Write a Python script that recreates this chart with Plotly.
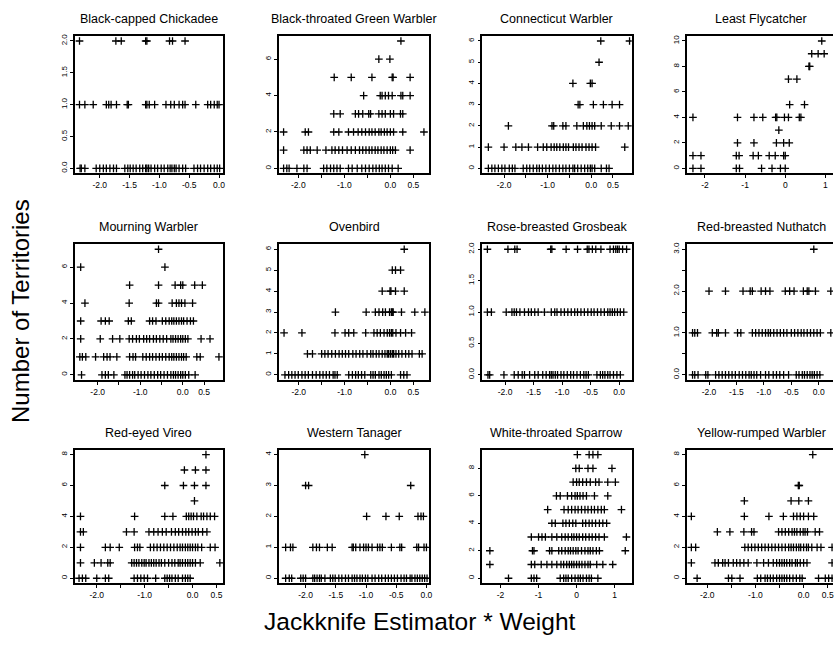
import plotly.graph_objects as go

W, H = 836, 648

species = [
    "Black-capped Chickadee", "Black-throated Green Warbler", "Connecticut Warbler", "Least Flycatcher",
    "Mourning Warbler", "Ovenbird", "Rose-breasted Grosbeak", "Red-breasted Nuthatch",
    "Red-eyed Vireo", "Western Tanager", "White-throated Sparrow", "Yellow-rumped Warbler",
]

# territories (y level) -> jackknife estimator * weight values (x)
black_capped_chickadee = {
    0: [-2.33, -2.31, -2.25, -2.06, -2.0, -1.94, -1.89, -1.83, -1.77, -1.72, -1.58, -1.53, -1.49, -1.44,
        -1.39, -1.33, -1.28, -1.23, -1.21, -1.18, -1.14, -1.08, -1.03, -0.97, -0.92, -0.86, -0.82, -0.79,
        -0.75, -0.72, -0.67, -0.61, -0.56, -0.42, -0.36, -0.31, -0.25, -0.19, -0.14, -0.08, -0.03, 0.01],
    1: [-2.34, -2.25, -2.11, -1.89, -1.85, -1.81, -1.72, -1.54, -1.52, -1.23, -1.21, -1.17, -1.08, -0.89,
        -0.81, -0.75, -0.67, -0.61, -0.57, -0.39, -0.19, -0.14, -0.08, -0.03, 0.0],
    2: [-2.34, -1.73, -1.64, -1.23, -1.21, -0.83, -0.78, -0.57],
}
black_throated_green_warbler = {
    0: [-2.32, -2.25, -2.20, -2.03, -1.88, -1.81, -1.45, -1.38, -1.30, -1.23, -1.16, -1.09, -0.91, -0.83,
        -0.72, -0.62, -0.54, -0.46, -0.38, -0.31, -0.24, -0.18, -0.11, -0.04, 0.04, 0.17],
    1: [-2.32, -1.88, -1.81, -1.74, -1.59, -1.40, -1.27, -1.20, -1.12, -1.04, -0.94, -0.85, -0.76, -0.67,
        -0.60, -0.53, -0.46, -0.40, -0.33, -0.27, -0.20, -0.14, -0.07, 0.0, 0.05, 0.11, 0.43],
    2: [-2.32, -1.85, -1.78, -1.23, -1.12, -0.91, -0.80, -0.70, -0.62, -0.54, -0.46, -0.40, -0.33, -0.25,
        -0.20, -0.13, -0.07, 0.0, 0.07, 0.27, 0.73],
    3: [-1.23, -1.09, -0.76, -0.69, -0.60, -0.47, -0.43, -0.25, -0.18, -0.11, 0.0, 0.07, 0.22, 0.27],
    4: [-0.58, -0.22, -0.18, -0.11, -0.04, 0.04, 0.23, 0.27, 0.43],
    5: [-1.22, -0.85, -0.40, 0.04, 0.06, 0.43],
    6: [-0.25, -0.01],
    7: [0.23],
}
connecticut_warbler = {
    0: [-2.36, -2.28, -2.21, -2.13, -2.05, -1.98, -1.88, -1.81, -1.75, -1.56, -1.48, -1.41, -1.33, -1.25,
        -1.19, -1.12, -1.04, -0.96, -0.88, -0.81, -0.73, -0.65, -0.58, -0.50, -0.42, -0.38, -0.31, -0.23,
        -0.15, -0.08, -0.02, 0.02, 0.08, 0.23, 0.35, 0.41],
    1: [-2.36, -2.0, -1.73, -1.59, -1.44, -1.23, -1.10, -1.02, -0.92, -0.85, -0.79, -0.72, -0.64, -0.58,
        -0.52, -0.41, -0.35, -0.28, -0.21, -0.12, -0.05, 0.02, 0.10, 0.77],
    2: [-1.90, -0.90, -0.86, -0.65, -0.58, -0.33, -0.18, -0.10, -0.04, 0.02, 0.08, 0.23, 0.46, 0.65, 0.85],
    3: [-0.30, -0.26, 0.05, 0.28, 0.48, 0.65],
    4: [-0.42, -0.02, 0.02],
    5: [0.18],
    6: [0.22, 0.88],
}
least_flycatcher = {
    0: [-2.30, -2.10, -1.22, -1.14, -0.59, -0.33, -0.12, 0.0],
    1: [-2.30, -2.10, -1.22, -1.15, -0.80, -0.67, -0.40, -0.25, -0.04, 0.0],
    2: [-1.19, -0.78, -0.22, -0.04, 0.10],
    3: [-0.16],
    4: [-2.30, -1.19, -0.78, -0.56, -0.24, -0.21, -0.02, 0.08, 0.35, 0.39],
    5: [0.11, 0.48],
    7: [0.08, 0.29],
    8: [0.59, 0.61],
    9: [0.66, 0.82, 0.97],
    10: [0.91],
}
mourning_warbler = {
    0: [-2.38, -1.90, -1.82, -1.75, -1.62, -1.36, -1.31, -1.25, -1.18, -1.13, -1.05, -0.98, -0.90, -0.82,
        -0.75, -0.67, -0.59, -0.52, -0.44, -0.36, -0.28, -0.22, -0.17, -0.11, -0.05, 0.0, 0.06, 0.14, 0.29],
    1: [-2.42, -2.36, -2.28, -2.05, -1.86, -1.78, -1.71, -1.55, -1.25, -1.17, -1.11, -0.94, -0.86, -0.78,
        -0.71, -0.63, -0.55, -0.48, -0.40, -0.32, -0.26, -0.21, -0.15, -0.09, -0.03, 0.02, 0.08, 0.33,
        0.41, 0.85],
    2: [-2.40, -1.94, -1.65, -1.48, -1.26, -1.18, -1.09, -1.02, -0.92, -0.85, -0.78, -0.69, -0.62, -0.54,
        -0.46, -0.38, -0.28, -0.23, -0.17, -0.11, -0.05, 0.0, 0.06, 0.12, 0.43, 0.64],
    3: [-2.40, -1.92, -1.82, -1.73, -1.28, -1.21, -0.78, -0.71, -0.63, -0.48, -0.40, -0.32, -0.26, -0.21,
        -0.15, -0.09, -0.03, 0.02, 0.10, 0.18, 0.25],
    4: [-2.30, -1.26, -0.62, -0.57, -0.25, -0.15, -0.09, -0.03, 0.05, 0.23],
    5: [-1.25, -0.57, -0.18, -0.05, 0.0, 0.28, 0.46],
    6: [-2.40, -0.42],
    7: [-0.57],
}
ovenbird = {
    0: [-2.30, -2.22, -2.15, -2.08, -2.01, -1.93, -1.86, -1.79, -1.70, -1.62, -1.54, -1.47, -1.40, -1.33,
        -1.25, -1.21, -1.16, -0.91, -0.83, -0.76, -0.70, -0.63, -0.56, -0.43, -0.38, -0.33, -0.25, -0.20,
        -0.14, -0.09, -0.04, 0.02, 0.22, 0.29, 0.36],
    1: [-1.81, -1.70, -1.50, -1.43, -1.36, -1.28, -1.20, -1.12, -1.05, -0.98, -0.91, -0.82, -0.75, -0.67,
        -0.60, -0.51, -0.43, -0.38, -0.31, -0.25, -0.18, -0.12, -0.07, -0.04, 0.0, 0.04, 0.07, 0.12, 0.18,
        0.25, 0.33, 0.40, 0.47, 0.63, 0.69],
    2: [-2.32, -1.93, -1.21, -0.99, -0.91, -0.80, -0.54, -0.36, -0.29, -0.22, -0.14, -0.07, -0.02, 0.02,
        0.05, 0.12, 0.22, 0.33, 0.46],
    3: [-1.20, -0.53, -0.33, -0.25, -0.17, -0.11, -0.02, 0.02, 0.04, 0.06, 0.24, 0.53, 0.75],
    4: [-0.18, -0.01, 0.01, 0.11, 0.30],
    5: [0.04, 0.11, 0.22],
    6: [0.30],
}
rose_breasted_grosbeak = {
    0: [-2.30, -2.27, -2.02, -1.84, -1.77, -1.70, -1.66, -1.57, -1.48, -1.42, -1.34, -1.28, -1.22, -1.19,
        -1.16, -1.12, -1.08, -1.02, -0.97, -0.91, -0.85, -0.80, -0.74, -0.68, -0.62, -0.58, -0.54, -0.39,
        -0.33, -0.29, -0.25, -0.20, -0.16, -0.10, -0.04, 0.02],
    1: [-2.31, -2.24, -1.98, -1.88, -1.84, -1.80, -1.74, -1.66, -1.59, -1.54, -1.48, -1.42, -1.31, -1.19,
        -1.13, -1.09, -1.02, -0.96, -0.90, -0.84, -0.78, -0.73, -0.67, -0.61, -0.55, -0.49, -0.44, -0.38,
        -0.32, -0.26, -0.20, -0.16, -0.12, -0.08, -0.03, 0.02, 0.08],
    2: [-2.31, -1.95, -1.83, -1.79, -1.20, -1.18, -0.93, -0.73, -0.56, -0.53, -0.47, -0.41, -0.32, -0.16,
        -0.10, -0.06, -0.03, 0.0, 0.06, 0.13],
}
red_breasted_nuthatch = {
    0: [-2.30, -2.26, -2.20, -2.06, -2.02, -1.88, -1.82, -1.76, -1.70, -1.64, -1.58, -1.52, -1.45, -1.39,
        -1.33, -1.27, -1.23, -1.18, -1.13, -1.06, -0.97, -0.91, -0.83, -0.77, -0.71, -0.64, -0.55, -0.41,
        -0.36, -0.30, -0.26, -0.21, -0.16, -0.12, -0.08, -0.03, 0.02],
    1: [-2.30, -2.26, -2.21, -1.94, -1.86, -1.83, -1.70, -1.48, -1.42, -1.21, -1.15, -1.09, -1.03, -0.97,
        -0.92, -0.88, -0.82, -0.76, -0.70, -0.64, -0.58, -0.50, -0.44, -0.38, -0.32, -0.27, -0.21, -0.15,
        -0.09, -0.03, 0.03, 0.22],
    2: [-2.0, -1.70, -1.38, -1.25, -1.21, -1.05, -0.97, -0.89, -0.61, -0.53, -0.45, -0.28, -0.21, -0.18,
        -0.06, 0.22],
    3: [-0.09],
}
red_eyed_vireo = {
    0: [-2.37, -2.30, -2.23, -2.0, -1.82, -1.75, -1.22, -1.15, -1.08, -1.01, -0.94, -0.77, -0.58, -0.53,
        -0.48, -0.43, -0.36, -0.30, -0.21, -0.15, -0.10, -0.05],
    1: [-2.34, -2.05, -1.91, -1.77, -1.72, -1.27, -1.22, -1.17, -1.12, -1.06, -1.01, -0.97, -0.91, -0.86,
        -0.81, -0.76, -0.70, -0.65, -0.58, -0.50, -0.43, -0.37, -0.30, -0.26, -0.21, -0.15, -0.10, -0.05,
        0.0, 0.06, 0.16, 0.57],
    2: [-2.34, -1.82, -1.72, -1.53, -1.21, -1.15, -1.10, -0.88, -0.81, -0.74, -0.67, -0.60, -0.53, -0.46,
        -0.39, -0.32, -0.26, -0.21, -0.15, -0.10, -0.05, 0.0, 0.06, 0.11, 0.19, 0.37, 0.47],
    3: [-2.34, -2.28, -1.38, -1.22, -0.91, -0.81, -0.72, -0.63, -0.55, -0.44, -0.36, -0.29, -0.21, -0.14,
        -0.08, -0.01, 0.06, 0.12, 0.21, 0.30],
    4: [-2.34, -1.21, -0.58, -0.41, -0.13, -0.08, -0.03, 0.02, 0.09, 0.18, 0.23, 0.30, 0.37, 0.46],
    5: [0.04],
    6: [-0.58, -0.19, 0.04, 0.28],
    7: [-0.17, 0.06, 0.28],
    8: [0.28],
}
western_tanager = {
    0: [-2.33, -2.27, -2.23, -2.08, -2.04, -2.0, -1.88, -1.85, -1.81, -1.77, -1.74, -1.68, -1.59, -1.55,
        -1.51, -1.45, -1.40, -1.34, -1.29, -1.23, -1.19, -1.15, -1.10, -1.06, -1.01, -0.97, -0.90, -0.85,
        -0.79, -0.74, -0.68, -0.63, -0.58, -0.53, -0.48, -0.42, -0.37, -0.33, -0.27, -0.24, -0.19, -0.15,
        -0.11, -0.07, -0.03, 0.01],
    1: [-2.33, -2.25, -2.21, -1.88, -1.82, -1.77, -1.64, -1.56, -1.23, -1.21, -1.17, -1.10, -1.04, -1.0,
        -0.96, -0.90, -0.81, -0.77, -0.73, -0.58, -0.44, -0.41, -0.16, -0.13, -0.04, 0.0],
    2: [-0.99, -0.67, -0.45, -0.14, -0.09, -0.05],
    3: [-2.0, -1.95, -0.26],
    4: [-1.02],
}
white_throated_sparrow = {
    0: [-1.79, -1.19, -1.12, -1.05, -0.43, -0.34, -0.28, -0.22, -0.13, -0.04, 0.04, 0.10, 0.17, 0.26, 0.33,
        0.39, 0.56],
    1: [-2.28, -1.19, -1.10, -0.93, -0.78, -0.65, -0.52, -0.41, -0.34, -0.26, -0.19, -0.13, -0.07, 0.0,
        0.07, 0.14, 0.22, 0.30, 0.36, 0.53, 0.69, 0.95],
    2: [-2.28, -1.16, -1.12, -0.71, -0.65, -0.47, -0.39, -0.30, -0.22, -0.16, -0.09, -0.02, 0.04, 0.13,
        0.22, 0.30, 0.36, 0.43, 0.52, 0.60, 1.28],
    3: [-1.19, -1.0, -0.91, -0.82, -0.65, -0.52, -0.39, -0.30, -0.22, -0.13, -0.07, 0.0, 0.07, 0.16, 0.24,
        0.33, 0.41, 0.50, 0.59, 0.73, 1.31],
    4: [-0.65, -0.56, -0.36, -0.28, -0.19, -0.10, -0.02, 0.16, 0.24, 0.33, 0.41, 0.50, 0.60, 0.69, 0.79],
    5: [-0.76, -0.33, -0.22, -0.13, -0.04, 0.04, 0.13, 0.22, 0.30, 0.39, 0.47, 0.56, 0.65, 0.73, 1.18],
    6: [-0.53, -0.43, -0.24, -0.13, -0.04, 0.02, 0.09, 0.17, 0.26, 0.47, 0.82],
    7: [-0.09, 0.0, 0.07, 0.16, 0.26, 0.36, 0.50, 0.59, 0.82, 1.02],
    8: [-0.02, 0.07, 0.30, 0.43, 0.93],
    9: [0.02, 0.33, 0.43, 0.56],
}
yellow_rumped_warbler = {
    0: [-2.21, -1.56, -1.49, -1.32, -0.96, -0.89, -0.80, -0.75, -0.69, -0.63, -0.56, -0.50, -0.45, -0.40,
        -0.35, -0.29, -0.22, -0.15, -0.08, -0.03, 0.31, 0.45, 0.52, 0.59],
    1: [-2.33, -1.84, -1.77, -1.68, -1.63, -1.56, -1.46, -1.39, -1.32, -1.24, -1.15, -0.97, -0.83, -0.73,
        -0.63, -0.56, -0.50, -0.45, -0.40, -0.35, -0.29, -0.24, -0.17, -0.13, -0.07, 0.0, 0.07, 0.59],
    2: [-2.33, -2.24, -1.22, -1.15, -1.08, -1.01, -0.94, -0.87, -0.80, -0.73, -0.66, -0.59, -0.52, -0.45,
        -0.38, -0.31, -0.26, -0.21, -0.15, -0.10, -0.06, 0.0, 0.06, 0.10, 0.17, 0.28, 0.36, 0.59],
    3: [-1.79, -1.53, -1.24, -1.08, -1.03, -0.52, -0.45, -0.38, -0.31, -0.24, -0.19, -0.14, -0.07, -0.01,
        0.03, 0.08, 0.24, 0.33],
    4: [-2.33, -1.23, -0.72, -0.42, -0.21, -0.14, -0.07, 0.0, 0.10, 0.21],
    5: [-1.23, -0.26, -0.10, 0.10],
    6: [-0.11, -0.09],
    8: [0.19],
}

panel_data = [
    black_capped_chickadee, black_throated_green_warbler, connecticut_warbler, least_flycatcher,
    mourning_warbler, ovenbird, rose_breasted_grosbeak, red_breasted_nuthatch,
    red_eyed_vireo, western_tanager, white_throated_sparrow, yellow_rumped_warbler,
]

x_ranges = [
    [-2.42, 0.07], [-2.42, 0.85], [-2.50, 0.93], [-2.46, 1.19],
    [-2.54, 0.95], [-2.43, 0.85], [-2.40, 0.22], [-2.41, 0.26],
    [-2.46, 0.64], [-2.44, 0.05], [-2.48, 1.45], [-2.43, 0.61],
]
y_max = [2, 7, 6, 10, 7, 6, 2, 3, 8, 4, 9, 8]

half_ticks = ([-2.0, -1.5, -1.0, -0.5, 0.0, 0.5], ["-2.0", "", "-1.0", "", "0.0", "0.5"])
quarter_ticks = ([-2.0, -1.5, -1.0, -0.5, 0.0], ["-2.0", "-1.5", "-1.0", "-0.5", "0.0"])
unit_ticks = ([-2, -1, 0, 1], ["-2", "-1", "0", "1"])
x_tick_sets = [quarter_ticks, half_ticks, half_ticks, unit_ticks,
               half_ticks, half_ticks, quarter_ticks, quarter_ticks,
               half_ticks, quarter_ticks, unit_ticks, half_ticks]

y_tick_sets = [
    ([0, 0.5, 1, 1.5, 2], ["0.0", "0.5", "1.0", "1.5", "2.0"]),
    ([0, 2, 4, 6], ["0", "2", "4", "6"]),
    ([0, 1, 2, 3, 4, 5, 6], ["0", "1", "2", "3", "4", "5", "6"]),
    ([0, 2, 4, 6, 8, 10], ["0", "2", "4", "6", "8", "10"]),
    ([0, 2, 4, 6], ["0", "2", "4", "6"]),
    ([0, 1, 2, 3, 4, 5, 6], ["0", "1", "2", "3", "4", "5", "6"]),
    ([0, 0.5, 1, 1.5, 2], ["0.0", "0.5", "1.0", "1.5", "2.0"]),
    ([0, 0.5, 1, 1.5, 2, 2.5, 3], ["0.0", "", "1.0", "", "2.0", "", "3.0"]),
    ([0, 2, 4, 6, 8], ["0", "2", "4", "6", "8"]),
    ([0, 1, 2, 3, 4], ["0", "1", "2", "3", "4"]),
    ([0, 2, 4, 6, 8], ["0", "2", "4", "6", "8"]),
    ([0, 2, 4, 6, 8], ["0", "2", "4", "6", "8"]),
]

col_px = [(75, 224), (280, 431), (484, 634), (689, 839)]
row_px = [(34, 172), (243, 379), (449, 583)]

FONT = "Liberation Sans, Arial, Helvetica, sans-serif"
fig = go.Figure()
annotations = []
layout = {}

for i, name in enumerate(species):
    r, c = divmod(i, 4)
    k = "" if i == 0 else str(i + 1)
    data = panel_data[i]
    xs, ys = [], []
    for lvl, vals in data.items():
        xs += vals
        ys += [lvl] * len(vals)
    fig.add_trace(go.Scatter(
        x=xs, y=ys, mode="markers", xaxis="x" + k, yaxis="y" + k, showlegend=False,
        marker=dict(symbol="cross-thin", size=5.5, color="black", line=dict(width=1.3, color="black")),
        hoverinfo="x+y",
    ))
    x0, x1 = col_px[c]
    y0, y1 = row_px[r]
    dx0, dx1 = x0 / W, min(x1, W) / W
    ym = y_max[i]
    tv, tt = x_tick_sets[i]
    ytv, ytt = y_tick_sets[i]
    layout["xaxis" + k] = dict(
        domain=[dx0, dx1], range=x_ranges[i], anchor="y" + k,
        tickvals=tv, ticktext=tt, ticks="outside", ticklen=3, tickwidth=1, tickcolor="black",
        showline=True, mirror=True, linecolor="black", linewidth=1.5,
        showgrid=False, zeroline=False, tickfont=dict(size=8.5, family=FONT, color="black"),
    )
    layout["yaxis" + k] = dict(
        domain=[1 - y1 / H, 1 - y0 / H], range=[-0.04 * ym, 1.04 * ym], anchor="x" + k,
        tickvals=ytv, ticktext=ytt, ticks="outside", ticklen=3, tickwidth=1, tickcolor="black",
        tickangle=-90,
        showline=True, mirror=(c != 3), linecolor="black", linewidth=1.5,
        showgrid=False, zeroline=False, tickfont=dict(size=8, family=FONT, color="black"),
    )
    annotations.append(dict(
        text=name, x=(x0 + x1) / 2 / W, y=1 - (y0 - 17) / H, xref="paper", yref="paper",
        showarrow=False, xanchor="center", yanchor="middle",
        font=dict(size=12.5, family=FONT, color="black"),
    ))

annotations.append(dict(
    text="Number of Territories", x=20 / W, y=1 - 310 / H, xref="paper", yref="paper",
    showarrow=False, textangle=-90, xanchor="center", yanchor="middle",
    font=dict(size=24, family=FONT, color="black"),
))
annotations.append(dict(
    text="Jackknife Estimator * Weight", x=422 / W, y=1 - 621 / H, xref="paper", yref="paper",
    showarrow=False, xanchor="center", yanchor="middle",
    font=dict(size=24.5, family=FONT, color="black"),
))

fig.update_layout(
    width=W, height=H, margin=dict(l=0, r=0, t=0, b=0),
    paper_bgcolor="white", plot_bgcolor="white",
    annotations=annotations, **layout,
)

fig.write_html(
    "out.html",
    config={"displayModeBar": False},
    post_script="document.body.style.margin='0';document.body.style.overflow='hidden';",
)
